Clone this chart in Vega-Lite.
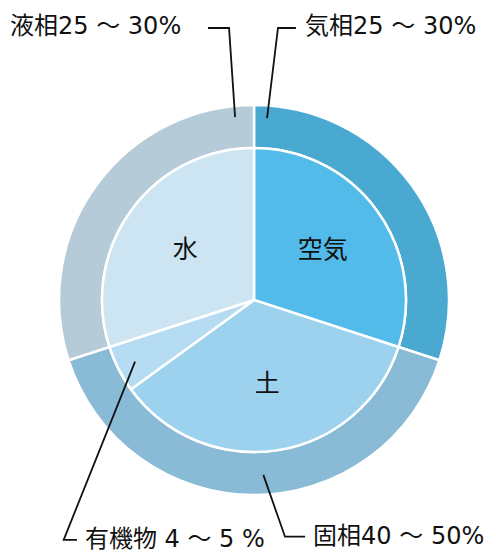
{
  "$schema": "https://vega.github.io/schema/vega-lite/v6.json",
  "width": 484,
  "height": 508,
  "autosize": {"type": "none"},
  "padding": {"left": 12, "top": 46, "right": 0, "bottom": 0},
  "background": "white",
  "config": {"view": {"stroke": null}, "font": "DejaVu Sans, Noto Sans CJK JP"},
  "datasets": {
    "inner": [
      {"name": "空気", "value": 30, "i": 1},
      {"name": "土", "value": 35, "i": 2},
      {"name": "有機物", "value": 5, "i": 3},
      {"name": "水", "value": 30, "i": 4}
    ],
    "outer": [
      {"name": "気相", "value": 30, "i": 1},
      {"name": "固相", "value": 40, "i": 2},
      {"name": "液相", "value": 30, "i": 3}
    ],
    "leaders": [
      {"label": "液相", "k": 1, "px": -23.6, "py": 139.5},
      {"label": "液相", "k": 2, "px": -12.8, "py": 139.5},
      {"label": "液相", "k": 3, "px": -9.7, "py": 93.8},
      {"label": "気相", "k": 1, "px": 21.5, "py": 139.5},
      {"label": "気相", "k": 2, "px": 12.3, "py": 139.5},
      {"label": "気相", "k": 3, "px": 6.7, "py": 93.3},
      {"label": "有機物", "k": 1, "px": -90.8, "py": -123.0},
      {"label": "有機物", "k": 2, "px": -97.6, "py": -123.0},
      {"label": "有機物", "k": 3, "px": -61.0, "py": -31.6},
      {"label": "固相", "k": 1, "px": 26.2, "py": -121.4},
      {"label": "固相", "k": 2, "px": 15.9, "py": -121.4},
      {"label": "固相", "k": 3, "px": 4.8, "py": -89.7}
    ],
    "captions": [
      {"text": "液相25 ～ 30%", "px": -125.1, "py": 140.0},
      {"text": "気相25 ～ 30%", "px": 26.2, "py": 140.0},
      {"text": "有機物 4 ～ 5 %", "px": -86.7, "py": -123.0},
      {"text": "固相40 ～ 50%", "px": 30.3, "py": -121.5}
    ]
  },
  "layer": [
    {
      "data": {"name": "outer"},
      "mark": {"type": "arc", "innerRadius": 152, "outerRadius": 195, "stroke": "white", "strokeWidth": 2.5},
      "encoding": {
        "theta": {"field": "value", "type": "quantitative", "stack": true},
        "order": {"field": "i", "type": "quantitative"},
        "color": {
          "field": "name", "type": "nominal", "legend": null,
          "scale": {
            "domain": ["空気", "土", "有機物", "水", "気相", "固相", "液相"],
            "range": ["#52bbe9", "#9cd2ee", "#b5dcf2", "#cde5f3", "#4aa9d1", "#89bbd7", "#b6cbd8"]
          }
        }
      }
    },
    {
      "data": {"name": "inner"},
      "mark": {"type": "arc", "outerRadius": 152, "stroke": "white", "strokeWidth": 2.5},
      "encoding": {
        "theta": {"field": "value", "type": "quantitative", "stack": true},
        "order": {"field": "i", "type": "quantitative"},
        "color": {
          "field": "name", "type": "nominal", "legend": null,
          "scale": {
            "domain": ["空気", "土", "有機物", "水", "気相", "固相", "液相"],
            "range": ["#52bbe9", "#9cd2ee", "#b5dcf2", "#cde5f3", "#4aa9d1", "#89bbd7", "#b6cbd8"]
          }
        }
      }
    },
    {
      "data": {"name": "inner"},
      "mark": {"type": "text", "radius": 85, "fontSize": 25, "color": "#111111", "font": "Noto Sans CJK JP"},
      "encoding": {
        "theta": {"field": "value", "type": "quantitative", "stack": true},
        "order": {"field": "i", "type": "quantitative"},
        "text": {"condition": {"test": "datum.name === '有機物'", "value": ""}, "field": "name", "type": "nominal"}
      }
    },
    {
      "data": {"name": "leaders"},
      "mark": {"type": "line", "color": "#111111", "strokeWidth": 1.8},
      "encoding": {
        "x": {"field": "px", "type": "quantitative", "scale": {"domain": [-124.1, 124.1]}, "axis": null},
        "y": {"field": "py", "type": "quantitative", "scale": {"domain": [-130.26, 130.26]}, "axis": null},
        "detail": {"field": "label", "type": "nominal"},
        "order": {"field": "k", "type": "quantitative"}
      }
    },
    {
      "data": {"name": "captions"},
      "mark": {"type": "text", "align": "left", "baseline": "middle", "fontSize": 24, "color": "#111111"},
      "encoding": {
        "x": {"field": "px", "type": "quantitative", "scale": {"domain": [-124.1, 124.1]}, "axis": null},
        "y": {"field": "py", "type": "quantitative", "scale": {"domain": [-130.26, 130.26]}, "axis": null},
        "text": {"field": "text", "type": "nominal"}
      }
    }
  ]
}
